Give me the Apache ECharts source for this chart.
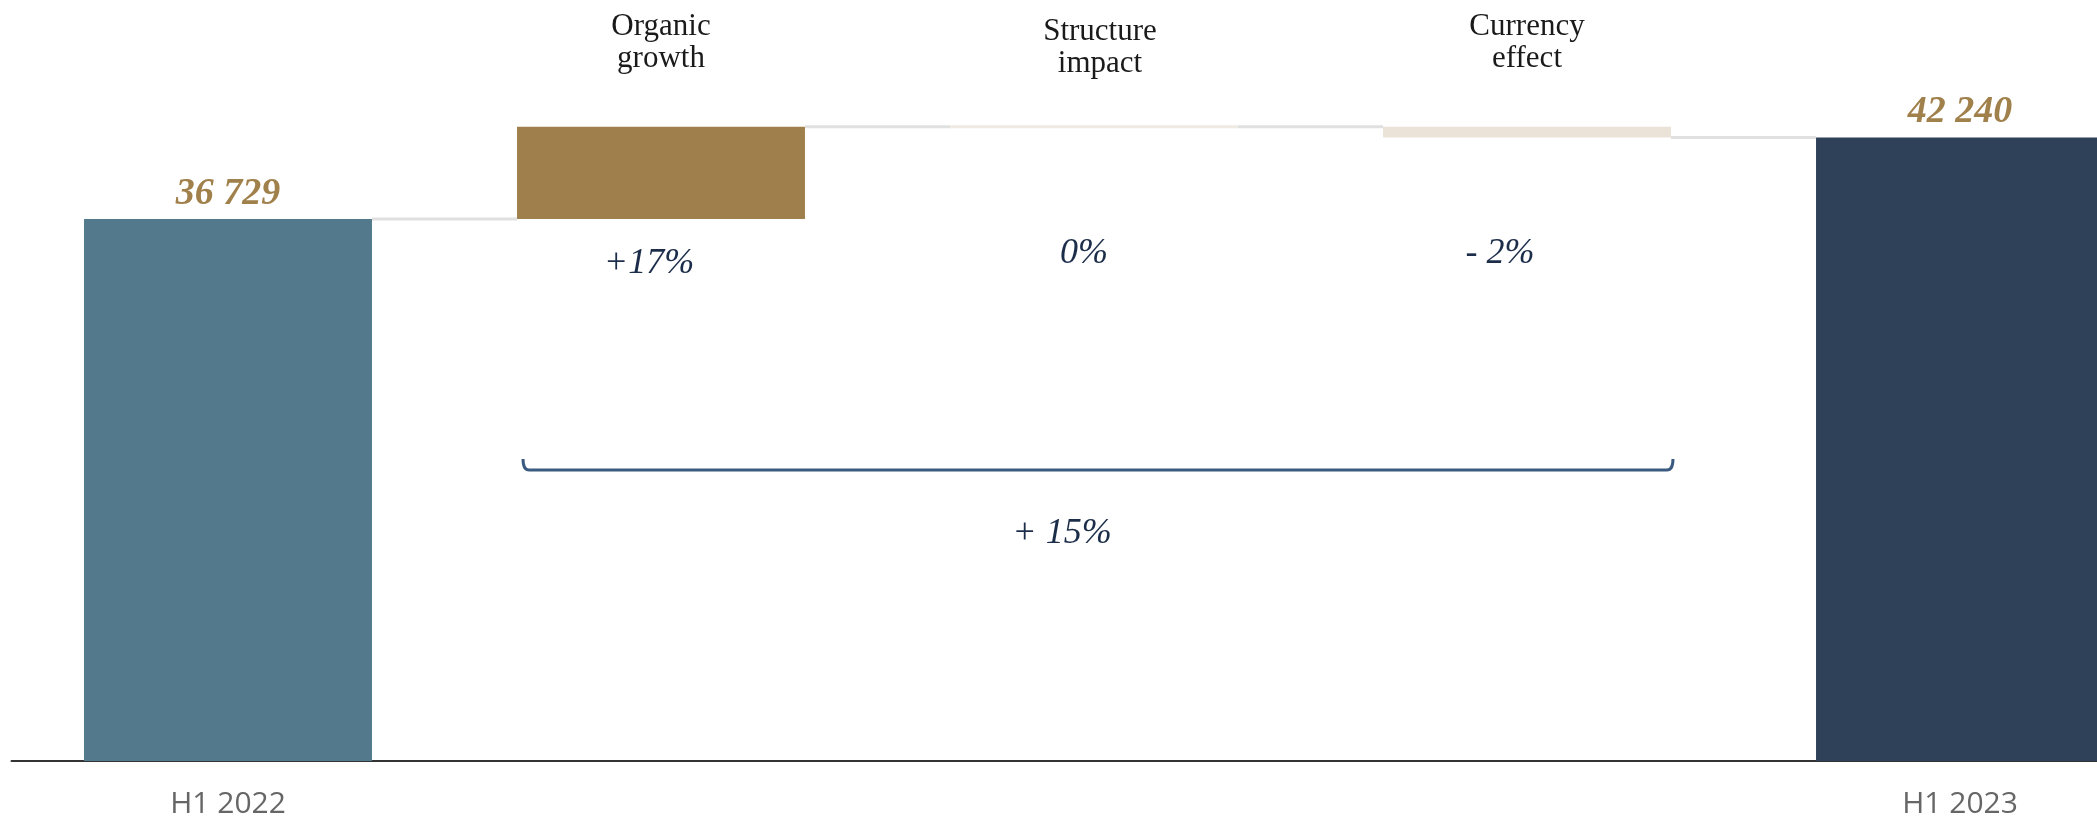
<!DOCTYPE html>
<html><head><meta charset="utf-8">
<script src="https://cdn.jsdelivr.net/npm/echarts@6/dist/echarts.min.js"></script>
<style>html,body{margin:0;padding:0;background:#fff}#c{width:2097px;height:819px}</style>
</head><body><div id="c"></div>
<script>
// ---- data ----
const categories = ['H1 2022', 'Organic growth', 'Structure impact', 'Currency effect', 'H1 2023'];
const topLabels = ['', 'Organic\ngrowth', 'Structure\nimpact', 'Currency\neffect', ''];
const startValue = 36729;
const endValue = 42240;
const changes = [6244, 0, -733];
const changeLabels = ['+17%', '0%', '- 2%'];
const totalChangeLabel = '+ 15%';
const yMax = 50000;

// ---- styles ----
const barColors = ['#527a8c', '#9f7f4b', '#efeae3', '#ebe3d8', '#2e4159'];
const connectorColor = '#e0e0e0';
const barRatio = 0.665;

// ---- build waterfall ----
const base = [0], vis = [startValue], levels = [startValue];
let run = startValue;
changes.forEach(c => {
  const next = run + c;
  base.push(Math.min(run, next));
  vis.push(Math.abs(c));
  run = next;
  levels.push(run);
});
base.push(0); vis.push(endValue);
const zeroBars = [];
changes.forEach((c, k) => { if (c === 0) zeroBars.push([k + 1, levels[k + 1]]); });

const fmt = v => String(v).replace(/\B(?=(\d{3})+(?!\d))/g, ' ');

const chart = echarts.init(document.getElementById('c'));
chart.setOption({
  animation: false,
  grid: { left: 11.5, right: -79.5, top: 23, bottom: 58, containLabel: false, outerBoundsMode: 'none' },
  xAxis: {
    type: 'category', data: categories,
    axisLine: { lineStyle: { color: '#333', width: 2 } },
    axisTick: { show: false },
    axisLabel: {
      interval: 0, margin: 28,
      formatter: (v, i) => (i === 0 || i === categories.length - 1) ? v : '',
      fontFamily: 'Open Sans', fontSize: 30, color: '#666'
    }
  },
  yAxis: { type: 'value', min: 0, max: yMax, show: false, splitLine: { show: false } },
  series: [
    { type: 'bar', stack: 'w', barWidth: (barRatio * 100) + '%', silent: true,
      itemStyle: { color: 'transparent' }, data: base },
    { type: 'bar', stack: 'w', barWidth: (barRatio * 100) + '%',
      data: vis.map((v, i) => ({
        value: v, itemStyle: { color: barColors[i] },
        label: { show: i === 0 || i === vis.length - 1 }
      })),
      label: {
        position: 'top', distance: 6, formatter: p => fmt(p.value),
        fontFamily: 'Liberation Serif', fontStyle: 'italic', fontWeight: 'bold',
        fontSize: 38, color: '#a0804b'
      }
    },
    { type: 'custom', silent: true, z: 3,
      data: levels.map((v, i) => [i, v]),
      renderItem: (params, api) => {
        const i = api.value(0), lv = api.value(1);
        const p0 = api.coord([i, lv]), p1 = api.coord([i + 1, lv]);
        const half = api.size([1, 0])[0] * barRatio / 2;
        return { type: 'line',
          shape: { x1: p0[0] + half, y1: p0[1], x2: p1[0] - half, y2: p1[1] },
          style: { stroke: connectorColor, lineWidth: 3 } };
      }
    },
    { type: 'custom', silent: true, z: 3,
      data: zeroBars,
      renderItem: (params, api) => {
        const i = api.value(0), lv = api.value(1);
        const p = api.coord([i, lv]);
        const half = api.size([1, 0])[0] * barRatio / 2;
        return { type: 'line',
          shape: { x1: p[0] - half, y1: p[1], x2: p[0] + half, y2: p[1] },
          style: { stroke: barColors[i], lineWidth: 3 } };
      }
    }
  ]
});

// ---- annotations positioned from the axis ----
const cx = i => chart.convertToPixel({ xAxisIndex: 0 }, categories[i]);
const band = cx(1) - cx(0);
const half = band * barRatio / 2;
const topLabelY = [11, 11, 16, 11, 11];
const pctY = [264, 254, 254];
const pctDX = [-12, -10, -27];
const gfx = [];
topLabels.forEach((t, i) => {
  if (!t) return;
  gfx.push({ type: 'text', x: cx(i) + (i === 2 ? 6 : 0), y: topLabelY[i], silent: true,
    style: { text: t, align: 'center', verticalAlign: 'top', fontFamily: 'Liberation Serif',
      fontSize: 31, lineHeight: 32, fill: '#1a1a1a' } });
});
changeLabels.forEach((t, k) => {
  gfx.push({ type: 'text', x: cx(k + 1) + pctDX[k], y: pctY[k], silent: true,
    style: { text: t, align: 'center', verticalAlign: 'middle', fontFamily: 'Liberation Serif',
      fontStyle: 'italic', fontSize: 36, fill: '#1c2d4a' } });
});
const bx0 = cx(1) - half + 6, bx1 = cx(changes.length) + half + 2, by = 470, hook = 11, r = 6;
const bStyle = { stroke: '#3a5a80', lineWidth: 3, fill: 'none' };
gfx.push({ type: 'line', silent: true, shape: { x1: bx0 + r, y1: by, x2: bx1 - r, y2: by }, style: bStyle });
gfx.push({ type: 'bezierCurve', silent: true, shape: { x1: bx0, y1: by - hook, cpx1: bx0, cpy1: by, x2: bx0 + r, y2: by }, style: bStyle });
gfx.push({ type: 'bezierCurve', silent: true, shape: { x1: bx1, y1: by - hook, cpx1: bx1, cpy1: by, x2: bx1 - r, y2: by }, style: bStyle });
gfx.push({ type: 'text', x: (bx0 + bx1) / 2 - 36, y: 534, silent: true,
  style: { text: totalChangeLabel, align: 'center', verticalAlign: 'middle', fontFamily: 'Liberation Serif',
    fontStyle: 'italic', fontSize: 36, fill: '#1c2d4a' } });
chart.setOption({ graphic: gfx });
</script>
</body></html>
